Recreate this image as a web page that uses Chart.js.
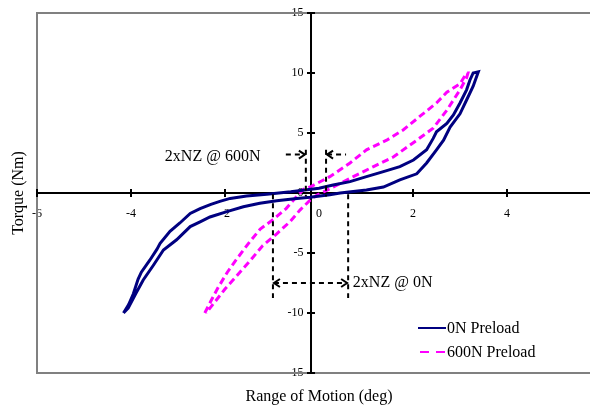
<!DOCTYPE html>
<html lang="en">
<head>
<meta charset="UTF-8">
<title>Torque vs Range of Motion</title>
<script src="https://cdn.jsdelivr.net/npm/chart.js"></script>
<style>
  html, body { margin: 0; padding: 0; overflow: hidden; background: #fff; }
  #wrap { width: 612px; height: 405px; }
</style>
</head>
<body>
<div id="wrap"><canvas id="romChart" width="612" height="405"></canvas></div>
<script>
// 0N preload loop: loading branch up, then unloading branch back down (deg / Nm)
const rom0N = [-4.16, -4.05, -3.95, -3.85, -3.78, -3.60, -3.45, -3.38, -3.17, -2.96, -2.74, -2.53, -2.30, -2.11, -1.89,
  -1.54, -1.11, -0.60, -0.30, 0.00, 0.30, 0.66, 1.01, 1.37, 1.72, 2.01, 2.29, 2.43, 2.50, 2.72, 2.86, 3.00, 3.14,
  3.21, 3.28, 3.39,
  3.28, 3.14, 3.00, 2.79, 2.65, 2.50, 2.29, 2.08, 1.72, 1.37, 1.01, 0.45, 0.23, -0.19, -0.47, -0.90, -1.26, -1.61,
  -1.96, -2.32, -2.53, -2.74, -3.03, -3.31, -3.52, -3.74, -3.90, -4.06, -4.16];
const torque0N = [-10.0, -9.3, -8.4, -7.2, -6.6, -5.6, -4.7, -4.2, -3.2, -2.5, -1.7, -1.3, -0.95, -0.7, -0.45,
  -0.25, -0.1, 0.1, 0.25, 0.4, 0.67, 0.95, 1.36, 1.78, 2.2, 2.75, 3.6, 4.55, 5.1, 5.8, 6.5, 7.5, 8.6,
  9.4, 10.0, 10.1,
  8.9, 7.75, 6.6, 5.5, 4.4, 3.6, 2.5, 1.6, 1.1, 0.5, 0.25, 0.0, -0.15, -0.36, -0.45, -0.64, -0.86, -1.15,
  -1.55, -2.0, -2.4, -2.8, -3.9, -4.75, -6.0, -7.25, -8.4, -9.6, -10.0];

// 600N preload loop
const rom600N = [-2.43, -2.30, -2.15, -1.95, -1.75, -1.50, -1.25, -0.97, -0.70, -0.50, -0.33, -0.19, 0.23, 0.66,
  1.01, 1.44, 1.79, 2.15, 2.50, 2.72, 3.00, 3.14,
  3.17, 3.14, 3.00, 2.86, 2.72, 2.43, 2.08, 1.58, 1.16, 0.73, 0.45, 0.10, -0.05, -0.19, -0.40, -0.62, -0.90,
  -1.20, -1.50, -1.75, -2.00, -2.20, -2.40];
const torque600N = [-10.0, -9.0, -7.9, -6.6, -5.5, -4.2, -3.0, -2.2, -1.3, -0.4, 0.3, 0.5, 1.36, 2.5,
  3.6, 4.4, 5.25, 6.4, 7.5, 8.4, 9.1, 10.0,
  10.0, 9.6, 8.6, 7.75, 6.9, 5.4, 4.4, 3.0, 2.2, 1.36, 0.8, 0.1, -0.2, -0.6, -1.4, -2.4, -3.4,
  -4.4, -5.8, -6.9, -8.0, -9.0, -10.0];

const seriesLabels = ['0N Preload', '600N Preload'];
const seriesColors = ['#000080', '#ff00ff'];
const xRange = [-6, 6];
const yRange = [-15, 15];
const xStep = 2;
const yStep = 5;
const yAxisCrossing = -0.17;   // where the torque axis crosses the x axis (deg)
const yLabelAnchor = -0.33;    // torque tick labels end here (Chart.js puts no gap on value-positioned axes)

// neutral zone markers: [left deg, right deg], marker height, bar level
const nz600 = [-0.28, 0.15];
const nz600Span = [3.6, -0.3];
const nz600Level = 3.2;
const nz600Text = '2xNZ @ 600N';
const nz600TextAt = [-3.28, 3.05];
const nz0 = [-0.98, 0.62];
const nz0Span = [-0.1, -8.75];
const nz0Level = -7.5;
const nz0Text = '2xNZ @ 0N';
const nz0TextAt = [0.72, -7.5];

const serif = 'Liberation Serif';

function toPoints(xs, ys) {
  return xs.map((x, i) => ({ x: x, y: ys[i] }));
}

const decorPlugin = {
  id: 'decor',
  beforeDatasetsDraw(chart) {
    const { ctx, chartArea: a, scales } = chart;
    const sx = scales.x, sy = scales.y;
    ctx.save();
    // plot border
    ctx.strokeStyle = '#808080';
    ctx.lineWidth = 2;
    ctx.strokeRect(a.left, a.top, a.right - a.left, a.bottom - a.top);
    // axes
    const x0 = sx.getPixelForValue(yAxisCrossing);
    const y0 = sy.getPixelForValue(0);
    ctx.strokeStyle = '#000';
    ctx.lineWidth = 2;
    ctx.beginPath();
    ctx.moveTo(a.left, y0); ctx.lineTo(a.right, y0);
    ctx.moveTo(x0, a.top); ctx.lineTo(x0, a.bottom);
    // crossing tick marks
    scales.x0.ticks.forEach(t => {
      if (t.value === 0) return;
      const px = sx.getPixelForValue(t.value);
      ctx.moveTo(px, y0 - 4); ctx.lineTo(px, y0 + 4);
    });
    scales.y0.ticks.forEach(t => {
      const py = sy.getPixelForValue(t.value);
      ctx.moveTo(x0 - 4, py); ctx.lineTo(x0 + 4, py);
    });
    ctx.stroke();
    ctx.restore();
  },
  afterDatasetsDraw(chart) {
    const { ctx, scales } = chart;
    const sx = scales.x, sy = scales.y;
    const px = v => sx.getPixelForValue(v);
    const py = v => sy.getPixelForValue(v);
    ctx.save();
    ctx.strokeStyle = '#000';
    ctx.fillStyle = '#000';
    ctx.lineWidth = 2;

    const arrow = (x, y, dir) => {
      ctx.setLineDash([]);
      ctx.beginPath();
      ctx.moveTo(x - dir * 6, y - 4);
      ctx.lineTo(x, y);
      ctx.lineTo(x - dir * 6, y + 4);
      ctx.stroke();
    };
    const dashed = (x1, y1, x2, y2) => {
      ctx.setLineDash([5, 4]);
      ctx.beginPath();
      ctx.moveTo(x1, y1); ctx.lineTo(x2, y2);
      ctx.stroke();
    };

    // 600N: arrows pointing in towards the neutral zone
    nz600.forEach(v => dashed(px(v), py(nz600Span[0]), px(v), py(nz600Span[1])));
    dashed(px(nz600[0]) - 20, py(nz600Level), px(nz600[0]) - 1, py(nz600Level));
    dashed(px(nz600[1]) + 1, py(nz600Level), px(nz600[1]) + 20, py(nz600Level));
    arrow(px(nz600[0]) - 1, py(nz600Level), 1);
    arrow(px(nz600[1]) + 1, py(nz600Level), -1);

    // 0N: one bar with arrows out to both bounds
    nz0.forEach(v => dashed(px(v), py(nz0Span[0]), px(v), py(nz0Span[1])));
    dashed(px(nz0[0]) + 1, py(nz0Level), px(nz0[1]) - 1, py(nz0Level));
    arrow(px(nz0[0]) + 1, py(nz0Level), -1);
    arrow(px(nz0[1]) - 1, py(nz0Level), 1);

    ctx.setLineDash([]);
    ctx.font = '16px "' + serif + '"';
    ctx.textBaseline = 'middle';
    ctx.textAlign = 'left';
    ctx.fillText(nz600Text, px(nz600TextAt[0]), py(nz600TextAt[1]));
    ctx.fillText(nz0Text, px(nz0TextAt[0]), py(nz0TextAt[1]));

    // legend inside plot
    chart.data.datasets.forEach((ds, i) => {
      const ly = 328 + i * 24;
      ctx.strokeStyle = ds.borderColor;
      ctx.lineWidth = 2;
      ctx.setLineDash(ds.borderDash && ds.borderDash.length ? [9, 7] : []);
      ctx.beginPath();
      ctx.moveTo(i ? 420 : 418, ly); ctx.lineTo(446, ly);
      ctx.stroke();
      ctx.fillStyle = '#000';
      ctx.fillText(ds.label, 447, ly + 1);
    });
    ctx.restore();
  }
};

const ctx = document.getElementById('romChart').getContext('2d');
const romChart = new Chart(ctx, {
  type: 'scatter',
  data: {
    datasets: [
      {
        label: seriesLabels[0],
        data: toPoints(rom0N, torque0N),
        showLine: true,
        borderColor: seriesColors[0],
        borderWidth: 3,
        pointRadius: 0,
        tension: 0
      },
      {
        label: seriesLabels[1],
        data: toPoints(rom600N, torque600N),
        showLine: true,
        borderColor: seriesColors[1],
        borderWidth: 3,
        borderDash: [7, 4],
        pointRadius: 0,
        tension: 0
      }
    ]
  },
  options: {
    responsive: false,
    animation: false,
    layout: { padding: { top: 13, right: 11, left: 0, bottom: 0 } },
    plugins: {
      legend: { display: false },
      tooltip: { enabled: false }
    },
    scales: {
      x: {
        type: 'linear', position: 'bottom', min: xRange[0], max: xRange[1],
        grid: { display: false }, border: { display: false },
        ticks: { display: false },
        title: { display: true, text: 'Range of Motion (deg)', color: '#000',
          font: { family: serif, size: 16, lineHeight: 1 }, padding: { top: 0, bottom: 0 } },
        afterFit: s => { s.height = 32; }
      },
      y: {
        type: 'linear', position: 'left', min: yRange[0], max: yRange[1],
        grid: { display: false }, border: { display: false },
        ticks: { display: false },
        title: { display: true, text: 'Torque (Nm)', color: '#000',
          font: { family: serif, size: 16, lineHeight: 1 }, padding: { top: 11, bottom: 0 } },
        afterFit: s => { s.width = 37; }
      },
      x0: {
        type: 'linear', position: { y: 0 }, min: xRange[0], max: xRange[1],
        grid: { display: false, drawTicks: true, tickLength: 14 }, border: { display: false },
        ticks: { stepSize: xStep, padding: 0, color: '#000', font: { family: serif, size: 12 } },
        afterFit: s => { s.height = 0; }
      },
      y0: {
        type: 'linear', position: { x: yLabelAnchor }, min: yRange[0], max: yRange[1],
        grid: { display: false, drawTicks: false }, border: { display: false },
        ticks: { stepSize: yStep, color: '#000', font: { family: serif, size: 12 } },
        afterFit: s => { s.width = 0; }
      }
    }
  },
  plugins: [decorPlugin]
});
</script>
</body>
</html>
